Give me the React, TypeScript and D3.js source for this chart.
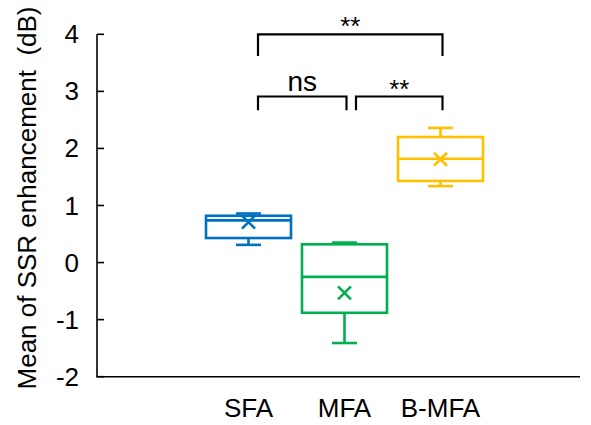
import React from "react";
import * as d3 from "d3";

// Box-plot summary per condition (dB)
const categories = ["SFA", "MFA", "B-MFA"];
const whiskerLow = [0.31, -1.41, 1.34];
const quartile1 = [0.43, -0.88, 1.43];
const medians = [0.74, -0.25, 1.82];
const quartile3 = [0.82, 0.32, 2.2];
const whiskerHigh = [0.86, 0.35, 2.36];
const means = [0.71, -0.53, 1.81];
const colors = ["#0070C0", "#00B050", "#FFC000"];

const yTicks = [-2, -1, 0, 1, 2, 3, 4];

// Significance brackets: category indices, bracket level and leg end (dB)
const bracketFrom = [0, 0, 1];
const bracketTo = [2, 1, 2];
const bracketLevel = [4.0, 2.91, 2.91];
const bracketLegEnd = [3.62, 2.67, 2.67];
const bracketLabels = ["**", "ns", "**"];

const W = 591;
const H = 425;
const FONT = "'Liberation Sans', Arial, sans-serif";

export default function App() {
  const y = d3.scaleLinear().domain([-2, 4]).range([376.7, 34.3]);
  const x = d3.scalePoint<string>().domain(categories).range([248.5, 440.5]);
  const axisX = 97;
  const axisRight = 580;
  const boxW = 85;
  const capW = 25;
  const xr = 6.5;

  return (
    <svg width={W} height={H} style={{ position: "absolute", left: 0, top: 0 }}>
      <rect width={W} height={H} fill="#fff" />
      {/* axes */}
      <line x1={axisX} x2={axisX} y1={y(4)} y2={y(-2)} stroke="#000" strokeWidth={1.6} />
      <line x1={axisX - 0.8} x2={axisRight} y1={y(-2)} y2={y(-2)} stroke="#000" strokeWidth={1.6} />
      {yTicks.map((t) => (
        <g key={t}>
          <line x1={axisX} x2={axisX + 7} y1={y(t)} y2={y(t)} stroke="#000" strokeWidth={1.6} />
          <text
            x={79}
            y={y(t)}
            textAnchor="end"
            dominantBaseline="central"
            fontFamily={FONT}
            fontSize={26}
            fill="#000"
          >
            {t}
          </text>
        </g>
      ))}
      <text
        transform={`translate(36,198) rotate(-90)`}
        textAnchor="middle"
        fontFamily={FONT}
        fontSize={26}
        fill="#000"
        style={{ whiteSpace: "pre" }}
      >
        {"Mean of SSR enhancement  (dB)"}
      </text>
      {categories.map((c) => (
        <text key={c} x={x(c)} y={417} textAnchor="middle" fontFamily={FONT} fontSize={26} fill="#000">
          {c}
        </text>
      ))}

      {/* boxes */}
      {categories.map((c, i) => {
        const cx = x(c)!;
        const col = colors[i];
        const sw = 2.6;
        return (
          <g key={c} stroke={col} strokeWidth={sw} fill="none">
            <line x1={cx} x2={cx} y1={y(whiskerHigh[i])} y2={y(quartile3[i])} />
            <line x1={cx} x2={cx} y1={y(quartile1[i])} y2={y(whiskerLow[i])} />
            <line x1={cx - capW / 2} x2={cx + capW / 2} y1={y(whiskerHigh[i])} y2={y(whiskerHigh[i])} />
            <line x1={cx - capW / 2} x2={cx + capW / 2} y1={y(whiskerLow[i])} y2={y(whiskerLow[i])} />
            <rect
              x={cx - boxW / 2}
              y={y(quartile3[i])}
              width={boxW}
              height={y(quartile1[i]) - y(quartile3[i])}
            />
            <line x1={cx - boxW / 2} x2={cx + boxW / 2} y1={y(medians[i])} y2={y(medians[i])} />
            <path
              d={`M${cx - xr},${y(means[i]) - xr}L${cx + xr},${y(means[i]) + xr}M${cx - xr},${
                y(means[i]) + xr
              }L${cx + xr},${y(means[i]) - xr}`}
            />
          </g>
        );
      })}

      {/* significance brackets */}
      {bracketLabels.map((lab, k) => {
        const x1 = x(categories[bracketFrom[k]])! + (k === 2 ? 11.5 : 9.5);
        const x2 = x(categories[bracketTo[k]])! + 2;
        const yl = y(bracketLevel[k]);
        const ye = y(bracketLegEnd[k]);
        const isNs = lab === "ns";
        const ty = isNs ? yl - 6 : yl + 1;
        return (
          <g key={k}>
            <path
              d={`M${x1},${ye}V${yl}H${x2}V${ye}`}
              fill="none"
              stroke="#000"
              strokeWidth={2.2}
            />
            <text
              x={(x1 + x2) / 2}
              y={ty}
              textAnchor="middle"
              fontFamily={FONT}
              fontSize={isNs ? 28 : 26}
              fill="#000"
            >
              {lab}
            </text>
          </g>
        );
      })}
    </svg>
  );
}
